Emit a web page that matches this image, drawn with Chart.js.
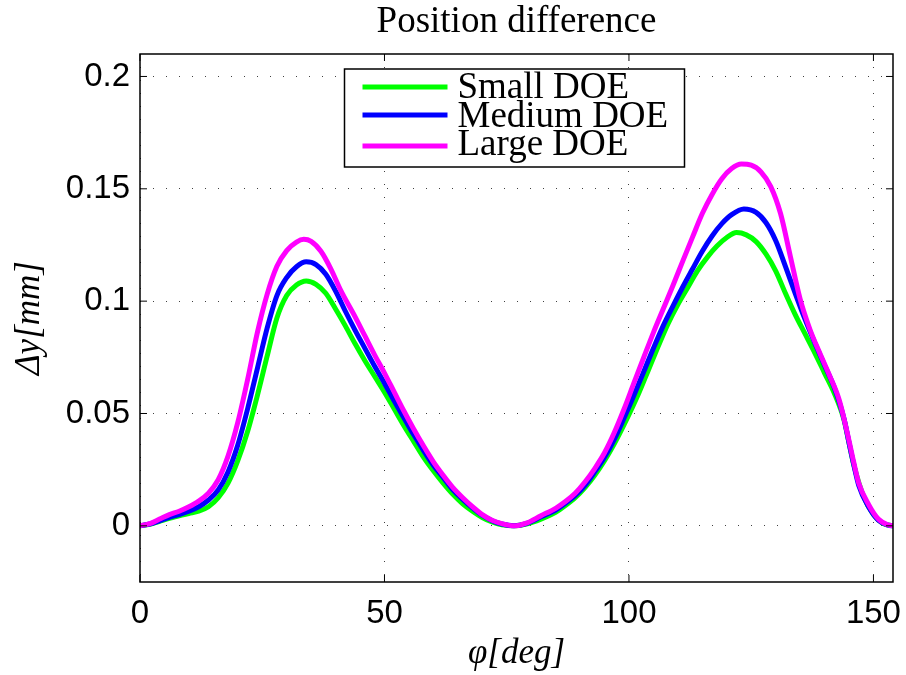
<!DOCTYPE html>
<html>
<head>
<meta charset="utf-8">
<script src="https://cdn.jsdelivr.net/npm/chart.js@4"></script>
<style>
  body { margin: 0; background: #fff; }
</style>
</head>
<body>
<canvas id="chartId" width="906" height="675"></canvas>
<script>
// series values (phi in deg, dy in mm)
const phiSmall = [0, 2, 4, 6, 8, 10, 12, 14, 16, 18, 20, 22, 24, 26, 28, 30, 32, 34, 36, 38, 40, 42, 44, 46, 48, 50, 52, 54, 56, 58, 60, 62, 64, 66, 68, 70, 72, 74, 76.5, 79, 82, 85, 87, 89, 91, 93, 95, 97, 99, 102, 104, 106, 108, 110, 112, 114, 116, 118, 120, 122, 124, 126, 128, 130, 132, 134, 136, 138, 140, 142, 144, 145, 146, 148, 150, 152, 154];
const dySmall = [0, 0.0007, 0.002, 0.0033, 0.0045, 0.0055, 0.0065, 0.0085, 0.0125, 0.019, 0.029, 0.042, 0.058, 0.0755, 0.0925, 0.1025, 0.1072, 0.109, 0.1075, 0.1035, 0.0965, 0.089, 0.081, 0.0735, 0.0665, 0.0595, 0.052, 0.0445, 0.0375, 0.0305, 0.0245, 0.019, 0.014, 0.0098, 0.0065, 0.0037, 0.0017, 0.0005, 0, 0.0008, 0.003, 0.006, 0.009, 0.0125, 0.017, 0.0225, 0.029, 0.0365, 0.045, 0.059, 0.0695, 0.08, 0.09, 0.0985, 0.106, 0.1135, 0.1195, 0.1245, 0.1283, 0.1305, 0.1295, 0.1265, 0.121, 0.1135, 0.1035, 0.094, 0.0855, 0.077, 0.068, 0.059, 0.047, 0.037, 0.027, 0.013, 0.005, 0.001, 0];

const phiMedium = [0, 2, 4, 6, 8, 10, 12, 14, 16, 18, 20, 22, 24, 26, 28, 30, 32, 34, 36, 38, 40, 42, 44, 46, 48, 50, 52, 54, 56, 58, 60, 62, 64, 66, 68, 70, 72, 74, 76.5, 79, 82, 85, 87, 89, 91, 93, 95, 97, 99, 101, 103, 105, 107, 109, 111, 113, 115, 117, 119, 121, 123.5, 126, 128, 130, 132, 134, 136, 138, 140, 142, 144, 145, 146, 147, 149, 151, 153, 154];
const dyMedium = [0, 0.0008, 0.0022, 0.0038, 0.005, 0.0065, 0.0085, 0.0115, 0.016, 0.024, 0.036, 0.052, 0.07, 0.088, 0.1025, 0.1105, 0.1153, 0.1175, 0.1163, 0.112, 0.1045, 0.0955, 0.087, 0.079, 0.071, 0.0635, 0.0555, 0.048, 0.0405, 0.0335, 0.027, 0.0215, 0.016, 0.0118, 0.008, 0.0047, 0.0023, 0.0008, 0, 0.001, 0.004, 0.007, 0.01, 0.0135, 0.018, 0.024, 0.0305, 0.0385, 0.048, 0.058, 0.0685, 0.079, 0.089, 0.0978, 0.1063, 0.1143, 0.1222, 0.129, 0.1345, 0.1385, 0.141, 0.1395, 0.135, 0.127, 0.1155, 0.1035, 0.092, 0.0815, 0.0715, 0.0615, 0.0475, 0.037, 0.027, 0.018, 0.0085, 0.0025, 0.0003, 0];

const phiLarge = [0, 2, 4, 6, 8, 10, 12, 14, 16, 18, 20, 22, 24, 26, 28, 30, 32, 33.5, 35, 37, 39, 41, 44, 46, 48, 50, 52, 54, 56, 58, 60, 62, 64, 66, 68, 70, 72, 74, 76.5, 79, 82, 85, 87, 89, 91, 93, 95, 97, 99, 101, 103, 105, 107, 109, 111, 113, 115, 117, 119, 121, 123, 125, 127, 129, 131, 133, 135, 137, 139, 141, 143, 145, 146, 147, 149, 151, 153, 154];
const dyLarge = [0, 0.001, 0.003, 0.005, 0.0065, 0.0085, 0.011, 0.0145, 0.0205, 0.031, 0.046, 0.065, 0.086, 0.103, 0.1155, 0.1225, 0.1263, 0.1275, 0.1266, 0.1222, 0.1145, 0.105, 0.093, 0.0845, 0.076, 0.068, 0.0595, 0.051, 0.043, 0.0355, 0.0285, 0.0225, 0.017, 0.0125, 0.0085, 0.005, 0.0025, 0.001, 0, 0.0012, 0.0045, 0.0078, 0.0108, 0.0145, 0.0195, 0.0255, 0.0325, 0.0415, 0.052, 0.0635, 0.0748, 0.086, 0.0965, 0.107, 0.1178, 0.1285, 0.139, 0.1475, 0.1545, 0.159, 0.161, 0.1605, 0.1575, 0.151, 0.139, 0.12, 0.101, 0.0875, 0.077, 0.067, 0.056, 0.038, 0.028, 0.019, 0.0095, 0.003, 0.0004, 0];

// tick labels
const xTicks = [0, 50, 100, 150];
const yTicks = [0, 0.05, 0.1, 0.15, 0.2];

const toPoints = (xs, ys) => xs.map((x, i) => ({x: x, y: ys[i]}));

// matlab style box, inner tick marks and boxed legend
const matlabFrame = {
  id: "matlabFrame",
  afterDatasetsDraw(chart) {
    const ctx = chart.ctx;
    const a = chart.chartArea;
    const sx = chart.scales.x;
    const sy = chart.scales.y;
    ctx.save();
    ctx.strokeStyle = "#000";
    ctx.lineWidth = 1.5;
    ctx.strokeRect(a.left, a.top, a.right - a.left, a.bottom - a.top);

    ctx.lineWidth = 1;
    ctx.beginPath();
    sx.ticks.forEach(t => {
      const px = sx.getPixelForValue(t.value);
      ctx.moveTo(px, a.bottom); ctx.lineTo(px, a.bottom - 7);
      ctx.moveTo(px, a.top); ctx.lineTo(px, a.top + 7);
    });
    sy.ticks.forEach(t => {
      const py = sy.getPixelForValue(t.value);
      ctx.moveTo(a.left, py); ctx.lineTo(a.left + 7, py);
      ctx.moveTo(a.right, py); ctx.lineTo(a.right - 7, py);
    });
    ctx.stroke();

    // legend
    const w = 340, h = 98;
    const left = (a.left + a.right) / 2 - w / 2 - 2;
    const top = a.top + 15;
    ctx.fillStyle = "#fff";
    ctx.fillRect(left, top, w, h);
    ctx.lineWidth = 1.5;
    ctx.strokeRect(left, top, w, h);
    const lineY = [18, 46, 77];
    const textY = [29, 58, 86];
    ctx.font = "37px 'Liberation Serif'";
    ctx.textBaseline = "alphabetic";
    ctx.textAlign = "left";
    chart.data.datasets.forEach((ds, i) => {
      ctx.strokeStyle = ds.borderColor;
      ctx.lineWidth = 5;
      ctx.beginPath();
      ctx.moveTo(left + 18, top + lineY[i]);
      ctx.lineTo(left + 103, top + lineY[i]);
      ctx.stroke();
      ctx.fillStyle = "#000";
      ctx.fillText(ds.label, left + 113, top + textY[i]);
    });
    ctx.restore();
  }
};

const gridOpts = { color: "rgba(0,0,0,0.75)", lineWidth: 1, drawTicks: false };
const tickFont = { family: "'Liberation Sans', Arial, sans-serif", size: 33 };

const chrt = document.getElementById("chartId").getContext("2d");
const chartId = new Chart(chrt, {
  type: "line",
  data: {
    datasets: [
      { label: "Small DOE", data: toPoints(phiSmall, dySmall), borderColor: "#00ff00", backgroundColor: "#00ff00", order: 3 },
      { label: "Medium DOE", data: toPoints(phiMedium, dyMedium), borderColor: "#0000ff", backgroundColor: "#0000ff", order: 2 },
      { label: "Large DOE", data: toPoints(phiLarge, dyLarge), borderColor: "#ff00ff", backgroundColor: "#ff00ff", order: 1 }
    ]
  },
  options: {
    responsive: false,
    animation: false,
    layout: { padding: { right: 13 } },
    elements: {
      line: { borderWidth: 5, cubicInterpolationMode: "monotone", fill: false, borderJoinStyle: "round", borderCapStyle: "round" },
      point: { radius: 0 }
    },
    plugins: {
      legend: { display: false },
      tooltip: { enabled: false },
      title: {
        display: true,
        text: "Position difference",
        fullSize: false,
        color: "#000",
        font: { family: "'Liberation Serif', serif", size: 37, weight: "normal" },
        padding: { top: 0, bottom: 9.6 }
      }
    },
    scales: {
      x: {
        type: "linear",
        min: 0,
        max: 154,
        afterBuildTicks: s => { s.ticks = xTicks.map(v => ({ value: v })); },
        afterFit: s => { s.height = 93; s.paddingLeft = 0; s.paddingRight = 0; },
        grid: gridOpts,
        border: { display: false, dash: [1, 12] },
        ticks: { color: "#000", font: tickFont, padding: 12, maxRotation: 0 },
        title: {
          display: true,
          text: "φ[deg]",
          color: "#000",
          font: { family: "'Liberation Serif', serif", size: 35, style: "italic" },
          padding: { top: 0, bottom: 0 }
        }
      },
      y: {
        type: "linear",
        min: -0.025,
        max: 0.21,
        afterBuildTicks: s => { s.ticks = yTicks.map(v => ({ value: v })); },
        afterFit: s => { s.width = 140; s.paddingTop = 0; s.paddingBottom = 0; },
        grid: gridOpts,
        border: { display: false, dash: [1, 12] },
        ticks: {
          color: "#000",
          font: tickFont,
          padding: 10,
          callback: v => String(Number(v.toFixed(3)))
        },
        title: {
          display: true,
          text: "Δy[mm]",
          color: "#000",
          font: { family: "'Liberation Serif', serif", size: 35, style: "italic" },
          padding: { top: 9, bottom: 0 }
        }
      }
    }
  },
  plugins: [matlabFrame]
});
</script>
</body>
</html>
